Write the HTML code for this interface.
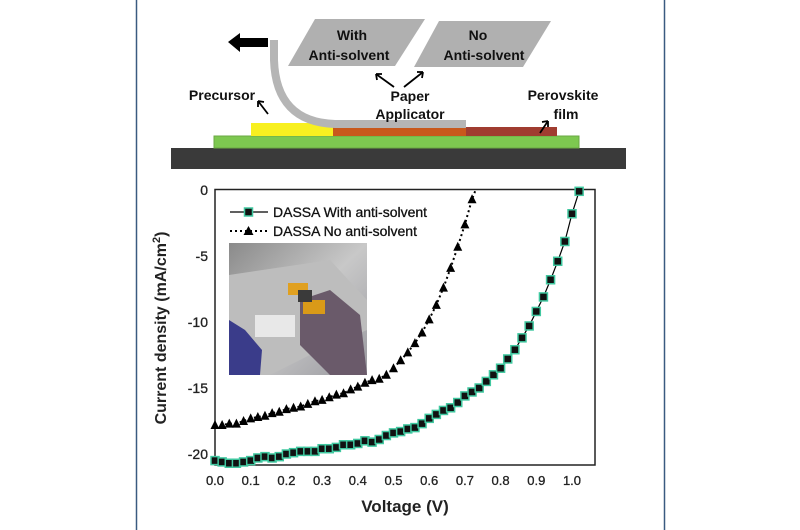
<!DOCTYPE html>
<html><head><meta charset="utf-8"><style>
body{margin:0;background:#fff;width:800px;height:530px;overflow:hidden}
svg{display:block}
text{font-family:"Liberation Sans",Arial,sans-serif}
</style></head><body>
<svg id="s" width="800" height="530" viewBox="0 0 800 530">
<rect x="0" y="0" width="800" height="530" fill="#fff"/>
<rect x="136.5" y="-2" width="528" height="533" fill="none" stroke="#3a5a80" stroke-width="1.5"/>
<rect x="171" y="148" width="455" height="21" fill="#3a3a3a"/>
<rect x="214" y="136" width="365" height="12" fill="#7dc850" stroke="#6aa843" stroke-width="1"/>
<rect x="251" y="123" width="82" height="13" fill="#f8f020"/>
<rect x="333" y="125" width="133" height="11" fill="#c8581c"/>
<rect x="466" y="127" width="91" height="9" fill="#a03c30"/>
<path d="M274 40 L274 60 Q276 122 335 124 L466 124" fill="none" stroke="#b5b5b5" stroke-width="8"/>
<path d="M228 42 L240 33 L240 38 L268 38 L268 47 L240 47 L240 52 Z" fill="#000"/>
<polygon points="315,19 425,19 395,66 288,66" fill="#b0b0b0"/>
<polygon points="439,21 551,21 523,67 414,67" fill="#b0b0b0"/>
<g font-weight="bold" font-size="14" fill="#111" text-anchor="middle">
<text x="352" y="40">With</text><text x="349" y="60">Anti-solvent</text>
<text x="478" y="40">No</text><text x="484" y="60">Anti-solvent</text>
<text x="410" y="101">Paper</text><text x="410" y="119">Applicator</text>
<text x="222" y="100">Precursor</text>
<text x="563" y="100">Perovskite</text><text x="566" y="119">film</text>
</g>
<g stroke="#000" stroke-width="1.8" fill="none">
<path d="M394 87 L376 74 M376 74 L382 74 M376 74 L377 80"/>
<path d="M404 87 L423 72 M423 72 L417 72 M423 72 L422 78"/>
<path d="M268 114 L258 101 M258 101 L258 107 M258 101 L264 102"/>
<path d="M540 133 L548 121 M548 121 L542 122 M548 121 L548 127"/>
</g>
<rect x="215" y="189.5" width="380" height="275.5" fill="none" stroke="#222" stroke-width="1.5"/>
<g font-size="14" fill="#222" text-anchor="end" stroke="#222" stroke-width="0.3">
<text x="208" y="195">0</text><text x="208" y="261">-5</text><text x="208" y="327">-10</text><text x="208" y="393">-15</text><text x="208" y="459">-20</text>
</g>
<g id="xt" font-size="13" fill="#222" text-anchor="middle" stroke="#222" stroke-width="0.3"></g>
<text x="405" y="512" font-size="17" font-weight="bold" text-anchor="middle" fill="#222">Voltage (V)</text>
<text transform="translate(166,328) rotate(-90)" font-size="16" font-weight="bold" text-anchor="middle" fill="#222">Current density (mA/cm<tspan dy="-6" font-size="11">2</tspan><tspan dy="6">)</tspan></text>
<defs><linearGradient id="ph" x1="0" y1="0" x2="1" y2="1"><stop offset="0" stop-color="#8a8a8a"/><stop offset="0.5" stop-color="#c8c8c8"/><stop offset="1" stop-color="#9a9aa0"/></linearGradient></defs>
<rect x="229" y="243" width="138" height="132" fill="url(#ph)"/>
<polygon points="229,275 229,375 270,375 320,350 367,330 367,300 330,260" fill="#bdbdbd"/>
<polygon points="300,300 330,290 360,315 367,375 330,375 300,345" fill="#6a5a6a"/>
<polygon points="229,320 245,330 262,350 260,375 229,375" fill="#3a3c8a"/>
<rect x="288" y="283" width="20" height="12" fill="#e0a020"/><rect x="303" y="300" width="22" height="14" fill="#d99a18"/>
<rect x="298" y="290" width="14" height="12" fill="#3a3a3a"/>
<rect x="255" y="315" width="40" height="22" fill="#e8e8e8"/>
<line x1="230" y1="212" x2="268" y2="212" stroke="#000" stroke-width="1.2"/>
<rect x="244.5" y="208" width="8" height="8" fill="#111" stroke="#40c8a0" stroke-width="1.5"/>
<line x1="230" y1="231" x2="268" y2="231" stroke="#000" stroke-width="2" stroke-dasharray="2,3"/>
<polygon points="248.5,226 243.5,235 253.5,235" fill="#000"/>
<g font-size="14" fill="#111" stroke="#111" stroke-width="0.3"><text x="273" y="217">DASSA With anti-solvent</text><text x="273" y="236">DASSA No anti-solvent</text></g>
<g id="d"></g>
</svg>
<script>
var X=v=>215+v*357, Y=j=>190-j*13.2;
var xt=document.getElementById('xt'),h='';
for(var i=0;i<=10;i++)h+='<text x="'+X(i/10)+'" y="485">'+(i/10).toFixed(1)+'</text>';
xt.innerHTML=h;
var g=[-20.5,-20.6,-20.7,-20.7,-20.6,-20.5,-20.3,-20.2,-20.3,-20.2,-20.0,-19.9,-19.8,-19.8,-19.8,-19.6,-19.6,-19.5,-19.3,-19.3,-19.2,-19.0,-19.1,-18.9,-18.6,-18.4,-18.3,-18.1,-18.0,-17.7,-17.3,-17.0,-16.7,-16.5,-16.1,-15.6,-15.3,-15.0,-14.5,-14.0,-13.5,-12.8,-12.1,-11.2,-10.3,-9.2,-8.1,-6.8,-5.4,-3.9,-1.8,-0.1];
var t=[-17.8,-17.8,-17.7,-17.7,-17.5,-17.3,-17.2,-17.1,-16.9,-16.8,-16.6,-16.5,-16.4,-16.2,-16.0,-15.9,-15.7,-15.5,-15.4,-15.1,-14.9,-14.6,-14.4,-14.3,-14.0,-13.5,-12.9,-12.3,-11.6,-10.8,-9.8,-8.7,-7.4,-5.9,-4.3,-2.6,-0.7];
var s='',p='';
t.forEach((j,i)=>{p+=(i?'L':'M')+X(i*.02)+' '+Y(j)});
p+='L'+X(0.73)+' '+Y(0);
s+='<path d="'+p+'" fill="none" stroke="#000" stroke-width="2" stroke-dasharray="2,3"/>';
t.forEach((j,i)=>{var x=X(i*.02),y=Y(j);s+='<polygon points="'+x+','+(y-5)+' '+(x-4.5)+','+(y+4)+' '+(x+4.5)+','+(y+4)+'" fill="#000"/>'});
p='';g.forEach((j,i)=>{p+=(i?'L':'M')+X(i*.02)+' '+Y(j)});
s+='<path d="'+p+'" fill="none" stroke="#000" stroke-width="1.2"/>';
g.forEach((j,i)=>{var x=X(i*.02),y=Y(j);s+='<rect x="'+(x-4)+'" y="'+(y-4)+'" width="8" height="8" fill="#111" stroke="#40c8a0" stroke-width="1.5"/>'});
document.getElementById('d').innerHTML=s;
</script>
</body></html>
